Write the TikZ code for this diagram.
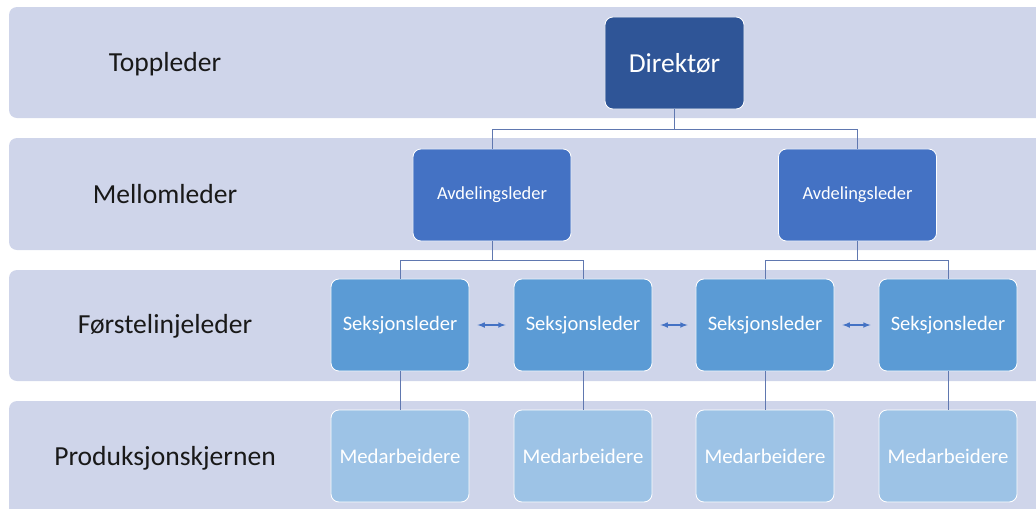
\documentclass[tikz,border=0pt]{standalone}
\usepackage{fontspec}
\setmainfont{Carlito}
\usepackage{tikz}
\usetikzlibrary{arrows}

\definecolor{bandbg}{HTML}{CFD5EA}
\definecolor{dirblue}{HTML}{2F5597}
\definecolor{avdblue}{HTML}{4472C4}
\definecolor{sekblue}{HTML}{5B9BD5}
\definecolor{medblue}{HTML}{9DC3E6}
\definecolor{wireblue}{HTML}{6078B0}

\tikzset{
	band/.style={fill=bandbg, rounded corners=0.2cm},
	level/.style={text=black!90, font=\fontsize{19.6}{23}\selectfont},
	orgbox/.style={draw=white, line width=0.6pt, rounded corners=0.2cm, text=white, minimum height=2.3cm},
	dirbox/.style={orgbox, fill=dirblue, minimum width=3.475cm, font=\fontsize{19.5}{23}\selectfont},
	avdbox/.style={orgbox, fill=avdblue, minimum width=3.95cm, font=\fontsize{13.1}{16}\selectfont},
	sekbox/.style={orgbox, fill=sekblue, minimum width=3.45cm, font=\fontsize{14.6}{17}\selectfont},
	medbox/.style={orgbox, fill=medblue, minimum width=3.45cm, font=\fontsize{14.8}{17}\selectfont},
	wire/.style={draw=wireblue, line width=0.7pt},
	pair/.style={draw=avdblue, line width=0.8pt, latex-latex, shorten <=0.2cm, shorten >=0.2cm}
}

\begin{document}
\begin{tikzpicture}[x=0.025cm, y=-0.025cm]
	\useasboundingbox (0, 0) rectangle (1036, 508);
	% Bands and level labels:
	\fill[band] (9, 7) rectangle (1060, 118);
	\fill[band] (9, 138) rectangle (1060, 250);
	\fill[band] (9, 270) rectangle (1060, 381);
	\fill[band] (9, 401) rectangle (1060, 530);
	\node[level] (L1) at (165, 64){Toppleder};
	\node[level] (L2) at (165, 194){Mellomleder};
	\node[level] (L3) at (165, 326){Førstelinjeleder};
	\node[level] (L4) at (165, 458){Produksjonskjernen};
	% Boxes:
	\node[dirbox] (dir) at (674.5, 63){Direktør};
	\node[avdbox] (avd1) at (492, 195){Avdelingsleder};
	\node[avdbox] (avd2) at (857.5, 195){Avdelingsleder};
	\node[sekbox] (sek1) at (400, 325){Seksjonsleder};
	\node[sekbox] (sek2) at (583, 325){Seksjonsleder};
	\node[sekbox] (sek3) at (765, 325){Seksjonsleder};
	\node[sekbox] (sek4) at (948, 325){Seksjonsleder};
	\node[medbox] (med1) at (400, 456){Medarbeidere};
	\node[medbox] (med2) at (583, 456){Medarbeidere};
	\node[medbox] (med3) at (765, 456){Medarbeidere};
	\node[medbox] (med4) at (948, 456){Medarbeidere};
	% Connectors:
	\draw[wire] (dir.south) -- ++(0, 20) -| (avd1.north);
	\draw[wire] (dir.south) -- ++(0, 20) -| (avd2.north);
	\draw[wire] (avd1.south) -- ++(0, 19) -| (sek1.north);
	\draw[wire] (avd1.south) -- ++(0, 19) -| (sek2.north);
	\draw[wire] (avd2.south) -- ++(0, 19) -| (sek3.north);
	\draw[wire] (avd2.south) -- ++(0, 19) -| (sek4.north);
	\draw[wire] (sek1.south) -- (med1.north);
	\draw[wire] (sek2.south) -- (med2.north);
	\draw[wire] (sek3.south) -- (med3.north);
	\draw[wire] (sek4.south) -- (med4.north);
	\draw[pair] (sek1.east) -- (sek2.west);
	\draw[pair] (sek2.east) -- (sek3.west);
	\draw[pair] (sek3.east) -- (sek4.west);
\end{tikzpicture}
\end{document}
